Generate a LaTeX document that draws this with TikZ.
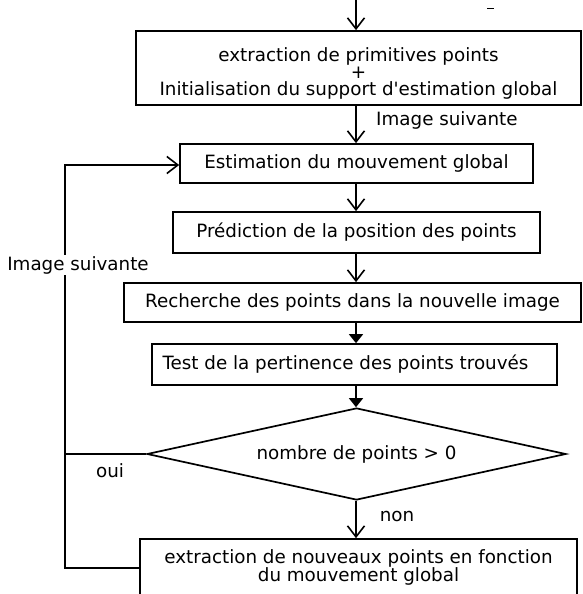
\documentclass[tikz,border=0pt]{standalone}
\usepackage{fontspec}
\setmainfont{DejaVu Sans}
\usetikzlibrary{arrows.meta,shapes.geometric}

\begin{document}
\begin{tikzpicture}[x=1pt,y=-1pt,
    font=\fontsize{18.3}{17}\selectfont,
    etape/.style={draw, line width=1.7pt, inner sep=0pt, align=center},
    fleche/.style={line width=1.6pt, -{Straight Barb[length=11pt,width=17pt,line width=1.6pt]}},
    flechep/.style={line width=1.6pt, -{Triangle[length=9pt,width=14pt]}}]
  \path[use as bounding box, clip] (0,0) rectangle (582,594);
  % blocs
  \node[etape, minimum width=445pt, minimum height=74pt] (init) at (358.5,68)
    {\mbox{}\\[7pt]extraction de primitives points\\+\\Initialisation du support d\textquotesingle estimation global};
  \node[etape, minimum width=353pt, minimum height=39pt] (estim) at (356.5,163.5) {Estimation du mouvement global};
  \node[etape, minimum width=367pt, minimum height=41pt] (predic) at (356.5,232.5) {Prédiction de la position des points};
  \node[etape, minimum width=457pt, minimum height=39pt] (recher) at (352.5,302.5) {Recherche des points dans la nouvelle image};
  \node[etape, minimum width=405pt, minimum height=41pt] (pertin) at (354.5,364.5) {Test de la pertinence des points trouvés\hspace*{18pt}};
  \node[etape, diamond, aspect=4.5, minimum width=419pt, minimum height=92pt] (nombre) at (356.5,454) {nombre de points > 0};
  \node[etape, minimum width=437pt, minimum height=57pt] (nouv) at (358.5,567.5)
    {extraction de nouveaux points en fonction\\du mouvement global};
  % fleches
  \coordinate (ax) at (356,0);
  \coordinate (hb) at (65,568);
  \coordinate (hh) at (65,165);
  \draw[fleche] (ax) -- (init.north -| ax);
  \draw[fleche] (init.south -| ax) -- (estim.north -| ax);
  \draw[fleche] (estim.south -| ax) -- (predic.north -| ax);
  \draw[fleche] (predic.south -| ax) -- (recher.north -| ax);
  \draw[flechep] (recher.south -| ax) -- (pertin.north -| ax);
  \draw[flechep] (pertin.south -| ax) -- (nombre.north -| ax);
  \draw[fleche] (nombre.south -| ax) -- (nouv.north -| ax);
  % boucle
  \draw[line width=1.6pt] (nombre.west) -- (nombre.west -| hb);
  \draw[fleche] (nouv.west |- hb) -- (hb) -- (hh) -- (estim.west |- hh);
  \draw[line width=1pt] (487,9) -- (494,9);
  % labels
  \node[anchor=west, inner sep=0pt] (lab1) at (376,120) {Image suivante};
  \node[fill=white, inner sep=1pt] (lab2) at (78,265) {Image suivante};
  \node (oui) at (110,471) {oui};
  \node (non) at (397,516) {non};
\end{tikzpicture}
\end{document}
